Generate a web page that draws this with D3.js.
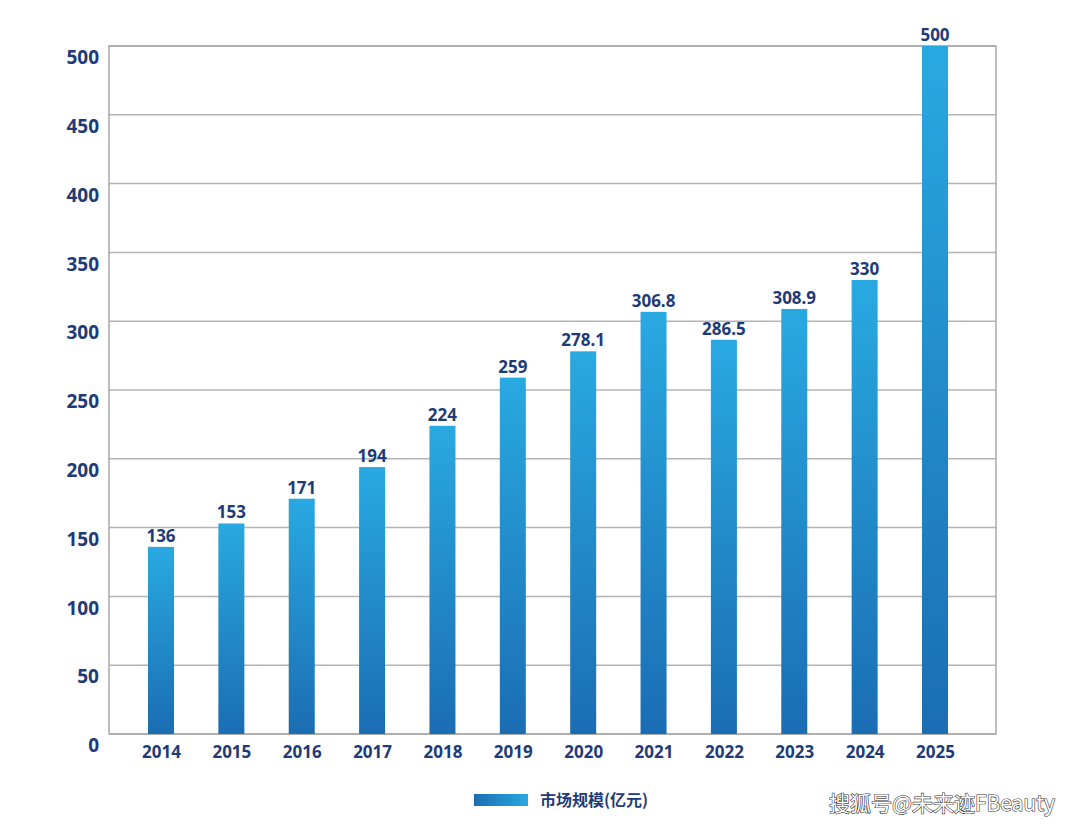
<!DOCTYPE html>
<html>
<head>
<meta charset="utf-8">
<script src="https://cdn.jsdelivr.net/npm/d3@7"></script>
<style>
  body { margin: 0; background: #fff; }
  svg { display: block; font-family: "Noto Sans", "Noto Sans CJK SC", sans-serif; }
</style>
</head>
<body>
<svg id="chart" width="1080" height="826"></svg>
<script>
const years = ["2014","2015","2016","2017","2018","2019","2020","2021","2022","2023","2024","2025"];
const values = [136, 153, 171, 194, 224, 259, 278.1, 306.8, 286.5, 308.9, 330, 500];
const yTicks = [0, 50, 100, 150, 200, 250, 300, 350, 400, 450, 500];
const legendLabel = "市场规模(亿元)";
const watermark = "搜狐号@未来迹FBeauty";

const svg = d3.select("#chart");
const textColor = "#1e3b78";
const plot = { left: 109, right: 996, top: 46, bottom: 734 };

const x = d3.scalePoint().domain(years).range([161, 935]);
const y = d3.scaleLinear().domain([0, 500]).range([plot.bottom, plot.top]);
const barWidth = 26;

const defs = svg.append("defs");
const grad = defs.append("linearGradient")
    .attr("id", "barGrad").attr("x1", 0).attr("y1", 0).attr("x2", 0).attr("y2", 1);
grad.append("stop").attr("offset", "0%").attr("stop-color", "#29a9e1");
grad.append("stop").attr("offset", "100%").attr("stop-color", "#1b6db3");

const legGrad = defs.append("linearGradient")
    .attr("id", "legGrad").attr("x1", 0).attr("y1", 0).attr("x2", 1).attr("y2", 0);
legGrad.append("stop").attr("offset", "0%").attr("stop-color", "#1b6db3");
legGrad.append("stop").attr("offset", "100%").attr("stop-color", "#29a9e1");

// gridlines
svg.append("g")
    .selectAll("line")
    .data(yTicks)
    .join("line")
    .attr("x1", plot.left)
    .attr("x2", plot.right)
    .attr("y1", d => y(d))
    .attr("y2", d => y(d))
    .attr("stroke", "#b4b4b4")
    .attr("stroke-width", 1.5);

// frame
svg.append("rect")
    .attr("x", plot.left).attr("y", plot.top)
    .attr("width", plot.right - plot.left)
    .attr("height", plot.bottom - plot.top)
    .attr("fill", "none")
    .attr("stroke", "#a8a8a8")
    .attr("stroke-width", 1.5);

// y axis labels
const yAxis = svg.append("g")
    .attr("transform", `translate(${plot.left - 10},0)`)
    .call(d3.axisLeft(y).tickValues(yTicks).tickSize(0).tickPadding(0));
yAxis.select(".domain").remove();
yAxis.selectAll("text")
    .attr("dy", "0.35em")
    .attr("y", 11)
    .style("font-size", "19px")
    .style("font-weight", "700")
    .style("font-family", "'Noto Sans', sans-serif")
    .attr("fill", textColor);

// x axis labels
const xAxis = svg.append("g")
    .attr("transform", `translate(0,${plot.bottom})`)
    .call(d3.axisBottom(x).tickSize(0).tickPadding(12));
xAxis.select(".domain").remove();
xAxis.selectAll("text")
    .style("font-size", "17px")
    .style("font-weight", "700")
    .style("font-family", "'Noto Sans', sans-serif")
    .attr("fill", textColor);

// bars
svg.append("g")
    .selectAll("rect")
    .data(values)
    .join("rect")
    .attr("x", (d, i) => x(years[i]) - barWidth / 2)
    .attr("y", d => y(d))
    .attr("width", barWidth)
    .attr("height", d => y(0) - y(d))
    .attr("fill", "url(#barGrad)");

// value labels
svg.append("g")
    .selectAll("text")
    .data(values)
    .join("text")
    .attr("x", (d, i) => x(years[i]))
    .attr("y", d => y(d) - 5)
    .attr("text-anchor", "middle")
    .style("font-size", "17px")
    .style("font-weight", "700")
    .attr("fill", textColor)
    .text(d => d);

// legend
const legend = svg.append("g").attr("transform", "translate(474,794)");
legend.append("rect")
    .attr("width", 54).attr("height", 12)
    .attr("fill", "url(#legGrad)");
legend.append("text")
    .attr("x", 66).attr("y", 6).attr("dy", "0.35em")
    .style("font-size", "16px")
    .style("font-weight", "700")
    .style("font-family", "'Noto Sans CJK SC', sans-serif")
    .attr("fill", textColor)
    .text(legendLabel);

// watermark
svg.append("text")
    .attr("x", 1055).attr("y", 811)
    .attr("text-anchor", "end")
    .style("font-size", "21px")
    .style("font-family", "'Noto Sans CJK SC', sans-serif")
    .attr("fill", "#fff")
    .attr("stroke", "#333")
    .attr("stroke-width", 1.2)
    .attr("paint-order", "stroke")
    .text(watermark);
</script>
</body>
</html>
